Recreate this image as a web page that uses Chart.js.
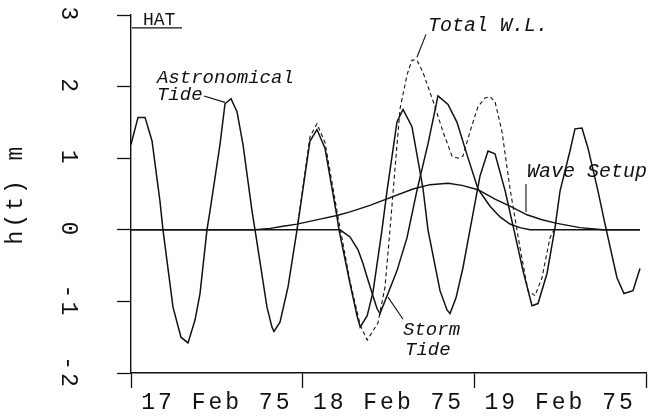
<!DOCTYPE html>
<html>
<head>
<meta charset="utf-8">
<script src="https://cdn.jsdelivr.net/npm/chart.js@4.4.1/dist/chart.umd.min.js"></script>
<style>
  html, body { margin: 0; padding: 0; background: #fff; }
</style>
</head>
<body>
<canvas id="chart" width="652" height="419"></canvas>
<script>
// time axis in hours from 00:00 17 Feb 75
const dayLabels = ['17 Feb 75', '18 Feb 75', '19 Feb 75']
const levelTicks = ['-2', '-1', '0', '1', '2', '3']

const astroHours = [0, 0.98, 1.96, 2.94, 4.05, 4.47, 5.87, 6.99, 7.97, 8.95, 9.65, 10.62, 11.04, 12.44, 13.14, 13.98,
  14.82, 15.66, 16.92, 17.34, 19.01, 19.71, 19.99, 20.83, 21.95, 23.21, 25.02, 26.0, 27.12, 28.8, 29.08, 30.62,
  31.6, 32.04, 33.02, 33.83, 35.09, 35.79, 37.19, 38.03, 39.28, 40.82, 41.52, 43.2, 44.18, 44.6, 45.44, 46.41,
  47.39, 48.79, 49.91, 50.89, 52.29, 53.54, 54.8, 56.06, 56.9, 58.16, 59.28, 59.98, 61.37, 62.07, 63.05, 63.89,
  65.29, 66.27, 67.94, 68.92, 70.18, 71.16]
const astroLevels = [1.19, 1.57, 1.57, 1.24, 0.4, 0, -1.08, -1.5, -1.58, -1.26, -0.89, 0, 0.26, 1.19, 1.76, 1.83,
  1.65, 1.19, 0.26, 0, -1.08, -1.36, -1.42, -1.29, -0.8, 0, 1.24, 1.4, 1.14, 0.18, 0, -0.75,
  -1.2, -1.36, -1.2, -0.87, 0, 0.54, 1.51, 1.68, 1.44, 0.58, 0, -0.85, -1.12, -1.17, -0.95, -0.53,
  0, 0.75, 1.1, 1.06, 0.55, 0, -0.57, -1.06, -1.03, -0.61, 0.03, 0.54, 1.1, 1.41, 1.42, 1.14,
  0.54, 0.08, -0.67, -0.89, -0.85, -0.54]

const surgeHours = [0, 29.22, 30.62, 31.74, 32.43, 33.13, 33.69, 34.39, 34.81, 35.93, 37.19, 38.59, 39.98, 41.52,
  42.92, 44.32, 45.58, 46.97, 48.51, 50.19, 51.59, 52.98, 54.38, 55.78, 71.16]
const surgeLevels = [0, 0, -0.1, -0.28, -0.47, -0.7, -0.88, -1.1, -1.17, -0.89, -0.57, -0.11, 0.55, 1.2,
  1.87, 1.75, 1.5, 1.05, 0.57, 0.33, 0.18, 0.08, 0.03, 0, 0]

const setupHours = [0, 17.34, 19.43, 21.25, 23.21, 26.42, 28.8, 30.62, 33.41, 35.23, 39.42, 41.8, 44.32, 46.27,
  48.51, 50.89, 52.98, 55.36, 57.46, 59.56, 62.77, 65.99, 71.16]
const setupLevels = [0, 0, 0.02, 0.05, 0.08, 0.15, 0.2, 0.25, 0.34, 0.41, 0.57, 0.63, 0.65, 0.62,
  0.56, 0.43, 0.33, 0.21, 0.14, 0.09, 0.03, 0, 0]

const totalHours = [23.21, 25.02, 26.0, 27.12, 28.94, 30.62, 32.04, 33.02, 34.53, 35.51, 36.21, 37.07, 37.63, 38.61,
  39.28, 39.98, 40.82, 42.22, 43.62, 44.88, 45.72, 46.41, 47.39, 48.51, 49.49, 50.19, 50.89, 51.87, 52.98,
  54.38, 55.5, 56.48, 57.46, 58.58, 59.28]
const totalLevels = [0, 1.3, 1.48, 1.22, 0.18, -0.72, -1.33, -1.54, -1.3, -0.8, 0, 1.05, 1.7, 2.17,
  2.37, 2.37, 2.2, 1.8, 1.37, 1.03, 1.0, 1.03, 1.37, 1.72, 1.84, 1.86, 1.79, 1.37, 0.58,
  -0.25, -0.85, -0.92, -0.67, -0.11, 0.03]

const hatHours = [0.14, 7.13]
const hatLevels = [2.82, 2.82]

// labels drawn on the plot, placed in data units (hours, metres)
const notes = [
  { text: 'HAT', h: 1.68, v: 2.86, italic: false, size: 18 },
  { text: 'Astronomical', h: 3.63, v: 2.05, italic: true, size: 19 },
  { text: 'Tide', h: 3.63, v: 1.81, italic: true, size: 19 },
  { text: 'Total W.L.', h: 41.52, v: 2.78, italic: true, size: 20 },
  { text: 'Storm', h: 38.03, v: -1.47, italic: true, size: 19 },
  { text: 'Tide', h: 38.31, v: -1.75, italic: true, size: 19 },
  { text: 'Wave Setup', h: 55.36, v: 0.74, italic: true, size: 20 }
]
const pointers = [
  [10.2, 1.87, 13.14, 1.78],
  [41.24, 2.73, 39.98, 2.41],
  [35.93, -0.94, 38.03, -1.25],
  [55.22, 0.64, 55.22, 0.25]
]

const FONT = '"Liberation Mono", "DejaVu Sans Mono", monospace'
const ink = '#111'

const pts = (xs, ys) => xs.map((x, i) => ({ x, y: ys[i] }))

const line = (label, data, extra) => Object.assign({
  label,
  data,
  borderColor: ink,
  borderWidth: 1.5,
  pointRadius: 0,
  tension: 0,
  fill: false
}, extra)

const noPad = s => { s.paddingTop = 0; s.paddingBottom = 0; s.paddingLeft = 0; s.paddingRight = 0 }

const spacing = {
  id: 'spacing',
  beforeDraw(chart) { chart.ctx.letterSpacing = '3px' },
  afterDraw(chart) {
    const { ctx, scales: { x, y } } = chart
    ctx.save()
    ctx.fillStyle = ink
    ctx.strokeStyle = ink
    ctx.lineWidth = 1.1
    ctx.textBaseline = 'alphabetic'
    ctx.textAlign = 'left'
    notes.forEach(n => {
      ctx.font = (n.italic ? 'italic ' : '') + n.size + 'px ' + FONT
      ctx.letterSpacing = '0px'
      ctx.fillText(n.text, x.getPixelForValue(n.h), y.getPixelForValue(n.v))
    })
    pointers.forEach(p => {
      ctx.beginPath()
      ctx.moveTo(x.getPixelForValue(p[0]), y.getPixelForValue(p[1]))
      ctx.lineTo(x.getPixelForValue(p[2]), y.getPixelForValue(p[3]))
      ctx.stroke()
    })
    ctx.restore()
    ctx.letterSpacing = '0px'
  }
}

new Chart(document.getElementById('chart'), {
  type: 'line',
  data: {
    datasets: [
      line('Astronomical Tide', pts(astroHours, astroLevels)),
      line('Storm Tide', pts(surgeHours, surgeLevels)),
      line('Wave Setup', pts(setupHours, setupLevels), { borderWidth: 1.4 }),
      line('Total W.L.', pts(totalHours, totalLevels), { borderWidth: 1.1, borderDash: [4, 3] }),
      line('HAT', pts(hatHours, hatLevels), { borderWidth: 1.1 })
    ]
  },
  options: {
    responsive: false,
    animation: false,
    layout: { padding: { left: 0, top: 15, right: 6, bottom: 0 } },
    plugins: { legend: { display: false }, tooltip: { enabled: false } },
    scales: {
      x: {
        type: 'linear',
        min: 0,
        max: 72,
        afterFit(s) { s.height = 46; noPad(s) },
        grid: {
          drawOnChartArea: false,
          tickLength: 15,
          tickWidth: 1.3,
          tickColor: c => (c.tick && c.tick.value % 24 === 0 ? ink : 'rgba(0,0,0,0)')
        },
        border: { color: ink, width: 1.4 },
        ticks: {
          stepSize: 12,
          autoSkip: false,
          maxRotation: 0,
          padding: 1,
          color: ink,
          font: { family: FONT, size: 23 },
          callback: v => (v % 24 === 12 ? dayLabels[(v - 12) / 24] : '')
        }
      },
      y: {
        type: 'linear',
        min: -2,
        max: 3,
        afterFit(s) { s.width = 131; noPad(s) },
        grid: { drawOnChartArea: false, tickLength: 14, tickWidth: 1.3, tickColor: ink },
        border: { color: ink, width: 1.4 },
        ticks: {
          stepSize: 1,
          minRotation: -90,
          crossAlign: 'center',
          padding: 35,
          color: ink,
          font: { family: FONT, size: 23 },
          callback: v => levelTicks[v + 2]
        },
        title: {
          display: true,
          text: 'h(t) m',
          color: ink,
          padding: { top: 2, bottom: 0 },
          font: { family: FONT, size: 23 }
        }
      }
    }
  },
  plugins: [spacing]
})
</script>
</body>
</html>
